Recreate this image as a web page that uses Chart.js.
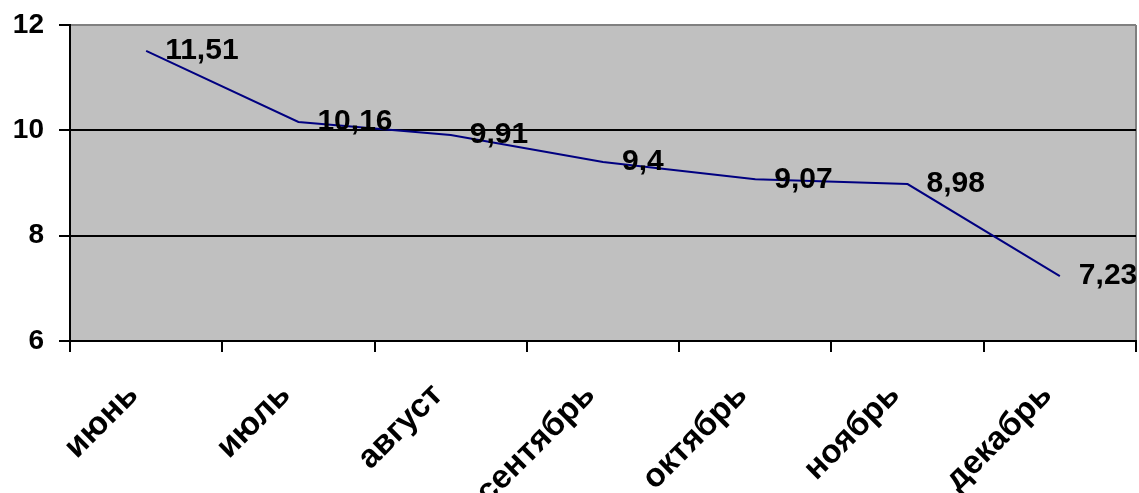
<!DOCTYPE html>
<html lang="ru">
<head>
    <meta charset="UTF-8">
    <title>Динамика по месяцам</title>
    <script src="https://cdn.jsdelivr.net/npm/chart.js"></script>
    <style>
        body { margin: 0; background: #fff; }
        #wrap { width: 1139px; height: 493px; }
    </style>
</head>
<body>
    <div id="wrap">
        <canvas id="lineChart" width="1139" height="493"></canvas>
    </div>

    <script>
        // Данные графика
        const months = ['июнь', 'июль', 'август', 'сентябрь', 'октябрь', 'ноябрь', 'декабрь'];
        const values = [11.51, 10.16, 9.91, 9.4, 9.07, 8.98, 7.23];
        const yTicks = [6, 8, 10, 12];

        const fontFamily = '"Liberation Sans", Arial, sans-serif';

        // Серый фон области построения и рамка справа
        const plotAreaPlugin = {
            id: 'plotArea',
            beforeDraw(chart) {
                const { ctx, chartArea: a } = chart;
                ctx.save();
                ctx.fillStyle = '#c0c0c0';
                ctx.fillRect(a.left, a.top, a.right - a.left, a.bottom - a.top);
                ctx.strokeStyle = '#808080';
                ctx.lineWidth = 2;
                ctx.beginPath();
                ctx.moveTo(a.right, a.top);
                ctx.lineTo(a.right, a.bottom);
                ctx.stroke();
                ctx.restore();
            }
        };

        // Подписи значений справа от точек
        const valueLabelsPlugin = {
            id: 'valueLabels',
            afterDatasetsDraw(chart) {
                const ctx = chart.ctx;
                const meta = chart.getDatasetMeta(0);
                ctx.save();
                ctx.font = 'bold 30px ' + fontFamily;
                ctx.fillStyle = '#000';
                ctx.textAlign = 'left';
                ctx.textBaseline = 'middle';
                meta.data.forEach((pt, i) => {
                    const text = String(values[i]).replace('.', ',');
                    ctx.fillText(text, pt.x + 19, pt.y);
                });
                ctx.restore();
            }
        };

        const ctx = document.getElementById('lineChart').getContext('2d');
        new Chart(ctx, {
            type: 'line',
            data: {
                labels: months,
                datasets: [{
                    data: values,
                    borderColor: '#000080',
                    borderWidth: 2,
                    pointRadius: 0,
                    tension: 0,
                    fill: false
                }]
            },
            options: {
                responsive: false,
                devicePixelRatio: 1,
                animation: false,
                layout: { padding: { top: 25, right: 3, left: 0, bottom: 0 } },
                plugins: {
                    legend: { display: false },
                    tooltip: { enabled: false }
                },
                scales: {
                    x: {
                        offset: true,
                        grid: {
                            offset: true,
                            drawOnChartArea: false,
                            color: '#000',
                            lineWidth: 2,
                            tickLength: 11
                        },
                        border: { color: '#000', width: 2 },
                        ticks: {
                            color: '#000',
                            font: { family: fontFamily, size: 33, weight: 'bold' },
                            minRotation: 45,
                            maxRotation: 45,
                            padding: 24,
                            labelOffset: -13,
                            autoSkip: false
                        },
                        afterFit(scale) { scale.height = 152; }
                    },
                    y: {
                        min: 6,
                        max: 12,
                        afterBuildTicks(scale) {
                            scale.ticks = yTicks.map(v => ({ value: v }));
                        },
                        grid: {
                            color: c => (c.tick && c.tick.value === 12 ? '#808080' : '#000'),
                            tickColor: '#000',
                            lineWidth: 2,
                            tickLength: 11
                        },
                        border: { color: '#000', width: 2 },
                        ticks: {
                            color: '#000',
                            font: { family: fontFamily, size: 28, weight: 'bold' },
                            padding: 15
                        },
                        afterFit(scale) {
                            scale.width = 70;
                            scale.paddingTop = 0;
                            scale.paddingBottom = 0;
                        }
                    }
                }
            },
            plugins: [plotAreaPlugin, valueLabelsPlugin]
        });
    </script>
</body>
</html>
